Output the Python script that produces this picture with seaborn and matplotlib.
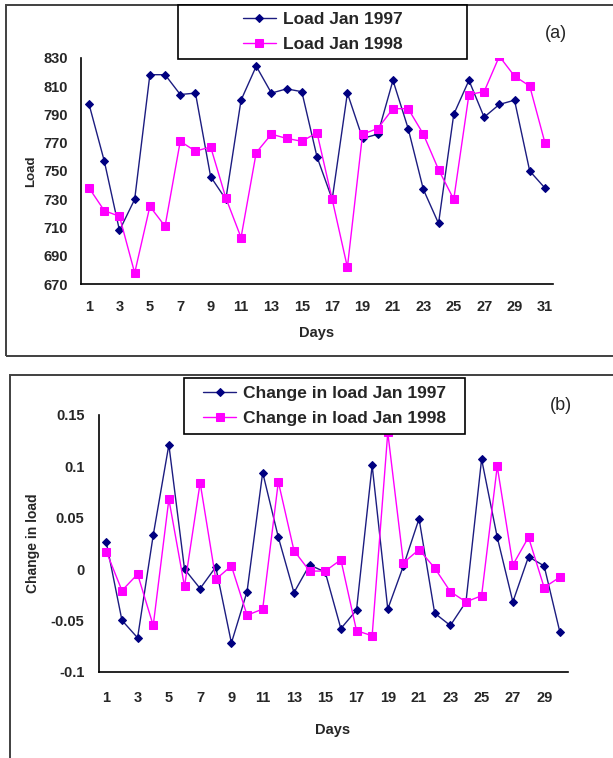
import numpy as np
import pandas as pd
import matplotlib
matplotlib.use("Agg")
import matplotlib.pyplot as plt
import seaborn as sns
from matplotlib.patches import Rectangle

# daily load, January 1997 vs 1998
days_a = list(range(1, 32))
load_1997 = [797, 757, 708, 730, 818, 818, 804, 805, 746, 730,
             800, 824, 805, 808, 806, 760, 730, 805, 773, 776,
             814, 780, 737, 713, 790, 814, 788, 797, 800, 750, 738]
load_1998 = [738, 722, 718, 678, 725, 711, 771, 764, 767, 731,
             703, 763, 776, 773, 771, 777, 730, 682, 776, 780,
             794, 794, 776, 751, 730, 804, 806, 831, 817, 810, 770]

# change in load
days_b = list(range(1, 31))
chg_1997 = [0.026, -0.050, -0.067, 0.033, 0.121, 0.000, -0.019, 0.002, -0.072, -0.022,
            0.094, 0.031, -0.023, 0.004, -0.003, -0.058, -0.040, 0.101, -0.039, 0.003,
            0.049, -0.043, -0.055, -0.032, 0.107, 0.031, -0.032, 0.012, 0.003, -0.061]
chg_1998 = [0.017, -0.021, -0.005, -0.055, 0.068, -0.017, 0.084, -0.010, 0.003, -0.045,
            -0.039, 0.085, 0.018, -0.002, -0.002, 0.009, -0.060, -0.065, 0.133, 0.006,
            0.019, 0.001, -0.022, -0.032, -0.026, 0.100, 0.004, 0.031, -0.018, -0.008]

yticks_a = [670, 690, 710, 730, 750, 770, 790, 810, 830]
yticks_b = [-0.1, -0.05, 0, 0.05, 0.1, 0.15]
yticklabels_b = ["-0.1", "-0.05", "0", "0.05", "0.1", "0.15"]

navy = "#000080"
navy_line = "#1c1c80"
magenta = "#ff00ff"

sns.set_style("white")
plt.rcParams['font.family'] = ['Liberation Sans', 'DejaVu Sans']

W, H = 613, 758
fig = plt.figure(figsize=(W / 100, H / 100), dpi=100)


def fx(px):
    return px / W


def fy(py):
    return 1 - py / H


# outer frames around each panel
fig.add_artist(Rectangle((fx(6), fy(356)), fx(620), fy(5) - fy(356), transform=fig.transFigure,
                         fill=False, edgecolor="#404040", linewidth=1.4, zorder=0))
fig.add_artist(Rectangle((fx(10), fy(770)), fx(620), fy(375) - fy(770), transform=fig.transFigure,
                         fill=False, edgecolor="#404040", linewidth=1.4, zorder=0))

ax_a = fig.add_axes([fx(81.5), fy(284.3), fx(552.5) - fx(81.5), fy(57.7) - fy(284.3)])
ax_b = fig.add_axes([fx(98.5), fy(671.7), fx(567.6) - fx(98.5), fy(415) - fy(671.7)])

df_a = pd.DataFrame({"day": days_a, "y97": load_1997, "y98": load_1998})
df_b = pd.DataFrame({"day": days_b, "y97": chg_1997, "y98": chg_1998})


def draw(ax, df, lab97, lab98):
    sns.lineplot(data=df, x="day", y="y97", ax=ax, color=navy_line, linewidth=1.0,
                 marker="D", markersize=4.5, markerfacecolor=navy, markeredgecolor=navy,
                 label=lab97, legend=False)
    sns.lineplot(data=df, x="day", y="y98", ax=ax, color=magenta, linewidth=1.0,
                 marker="s", markersize=5.5, markerfacecolor=magenta, markeredgecolor=magenta,
                 label=lab98, legend=False)
    n = len(df)
    ax.set_xlim(0.5, n + 0.5)
    ax.set_xticks(np.arange(0.5, n + 1, 1))
    ax.set_xticklabels([])
    ax.set_xticks(df["day"][::2], minor=True)
    ax.set_xticklabels([str(d) for d in df["day"][::2]], minor=True)
    ax.tick_params(axis="x", which="major", direction="out", length=4, width=1, color="black")
    ax.tick_params(axis="x", which="minor", length=0, labelsize=10.5)
    ax.tick_params(axis="y", direction="out", length=4, width=1, color="black", labelsize=10.5, pad=6)
    for t in ax.get_xticklabels(minor=True) + ax.get_yticklabels():
        t.set_fontweight("bold")
    sns.despine(ax=ax)
    for s in ["left", "bottom"]:
        ax.spines[s].set_color("black")
        ax.spines[s].set_linewidth(1.2)
    ax.set_facecolor("none")


draw(ax_a, df_a, "Load Jan 1997", "Load Jan 1998")
ax_a.set_ylim(670, 830)
ax_a.set_yticks(yticks_a)
ax_a.set_yticklabels([str(v) for v in yticks_a], fontweight="bold")
ax_a.tick_params(axis="x", which="minor", pad=11)
ax_a.set_xlabel("Days", fontsize=10.5, fontweight="bold", labelpad=9)
ax_a.set_ylabel("Load", fontsize=9.5, fontweight="bold", labelpad=4)

draw(ax_b, df_b, "Change in load Jan 1997", "Change in load Jan 1998")
ax_b.set_ylim(-0.1, 0.15)
ax_b.set_yticks(yticks_b)
ax_b.set_yticklabels(yticklabels_b, fontweight="bold")
ax_b.tick_params(axis="x", which="minor", pad=14)
ax_b.set_xlabel("Days", fontsize=10.5, fontweight="bold", labelpad=13)
ax_b.set_ylabel("Change in load", fontsize=10, fontweight="bold", labelpad=8)

# legend boxes drawn on top of the plot area
for (x0, y0, x1, y1), ax in [((178, 5, 467, 59), ax_a), ((184, 378, 465, 434), ax_b)]:
    fig.add_artist(Rectangle((fx(x0), fy(y1)), fx(x1) - fx(x0), fy(y0) - fy(y1),
                             transform=fig.transFigure, facecolor="white",
                             edgecolor="black", linewidth=1.2, zorder=5))
    h, l = ax.get_legend_handles_labels()
    leg = fig.legend(h, l, loc="center", bbox_to_anchor=(fx((x0 + x1) / 2), fy((y0 + y1) / 2)),
                     frameon=False, handlelength=1.9, handletextpad=0.4,
                     labelspacing=0.55, prop={"weight": "bold", "size": 12.5})
    leg.set_zorder(6)

fig.text(fx(556), fy(33), "(a)", fontsize=13, ha="center", va="center")
fig.text(fx(561), fy(406), "(b)", fontsize=13, ha="center", va="center")

fig.savefig("out.png", dpi=100, facecolor="white")
